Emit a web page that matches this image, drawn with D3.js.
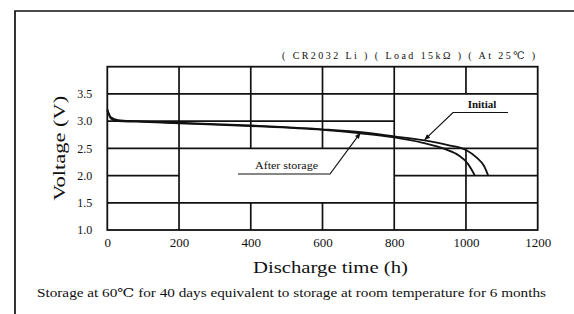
<!DOCTYPE html>
<html>
<head>
<meta charset="utf-8">
<script src="https://cdn.jsdelivr.net/npm/d3@7"></script>
<style>
  body { margin: 0; background: #fff; }
  svg { display: block; }
  text { font-family: "Liberation Serif", "DejaVu Serif", serif; fill: #111; }
</style>
</head>
<body>
<svg id="chart" width="574" height="314"></svg>
<script>
'use strict';

// discharge curves (hours, volts)
var initialCurve = [[0, 3.22], [10, 3.07], [30, 3.02], [80, 3.0], [200, 2.97], [400, 2.92],
    [600, 2.85], [700, 2.8], [800, 2.72], [880, 2.65], [950, 2.56], [1000, 2.47],
    [1030, 2.33], [1050, 2.18], [1062, 2.0]];
var afterStorageCurve = [[0, 3.2], [10, 3.05], [30, 3.0], [80, 2.99], [200, 2.96], [400, 2.91],
    [600, 2.84], [700, 2.78], [800, 2.7], [880, 2.6], [940, 2.49], [980, 2.37],
    [1005, 2.22], [1025, 2.0]];

var xTicks = [0, 200, 400, 600, 800, 1000, 1200];
var yTicks = [1.0, 1.5, 2.0, 2.5, 3.0, 3.5];

// the grid has gaps where the labels sit: [fixed value, from, to]
var hGrid = [[3.5, 0, 1200], [3.0, 0, 800], [2.5, 0, 1200], [2.0, 0, 200], [2.0, 800, 1200], [1.5, 0, 1200]];
var vGrid = [[200, 1, 4], [400, 2.5, 4], [400, 1, 1.5], [600, 2.5, 4], [600, 1, 1.5],
    [800, 1, 4], [1000, 3.5, 4], [1000, 1, 2.5]];

var condText = '( CR2032 Li )    ( Load 15k\u03A9 ) ( At 25\u2103 )';
var noteText = 'Storage at 60\u2103 for 40 days equivalent to storage at room temperature for 6 months';

var svg = d3.select('#chart');

// outer frame (runs off the right and bottom of the picture)
svg.append('path')
    .attr('d', 'M15,320 L15,11 L580,11')
    .attr('fill', 'none')
    .attr('stroke', '#111')
    .attr('stroke-width', 1.7);

var x = d3.scaleLinear().domain([0, 1200]).range([107.3, 537.7]);
var y = d3.scaleLinear().domain([1, 4]).range([230, 66.7]);

var g = svg.append('g');

hGrid.forEach(function(d) {
    g.append('line')
        .attr('x1', x(d[1])).attr('x2', x(d[2]))
        .attr('y1', y(d[0])).attr('y2', y(d[0]))
        .attr('stroke', '#111').attr('stroke-width', 1.7);
});
vGrid.forEach(function(d) {
    g.append('line')
        .attr('x1', x(d[0])).attr('x2', x(d[0]))
        .attr('y1', y(d[1])).attr('y2', y(d[2]))
        .attr('stroke', '#111').attr('stroke-width', 1.7);
});

g.append('rect')
    .attr('x', x(0)).attr('y', y(4))
    .attr('width', x(1200) - x(0)).attr('height', y(1) - y(4))
    .attr('fill', 'none').attr('stroke', '#111').attr('stroke-width', 1.8);

// ticks: no tick marks, only labels
var xAxis = d3.axisBottom(x).tickValues(xTicks).tickSize(0).tickPadding(8)
    .tickFormat(d3.format('d'));
var yAxis = d3.axisLeft(y).tickValues(yTicks).tickSize(0).tickPadding(15)
    .tickFormat(d3.format('.1f'));

var ax = svg.append('g').attr('transform', 'translate(0,' + y(1) + ')').call(xAxis);
var ay = svg.append('g').attr('transform', 'translate(' + x(0) + ',0)').call(yAxis);
ax.selectAll('text').attr('font-size', 13);
ay.selectAll('text').attr('font-size', 12);
[ax, ay].forEach(function(a) {
    a.select('.domain').remove();
    a.selectAll('text').attr('font-family', '"Liberation Serif", serif').attr('fill', '#111');
});

var line = d3.line()
    .x(function(d) { return x(d[0]); })
    .y(function(d) { return y(d[1]); })
    .curve(d3.curveMonotoneX);

[initialCurve, afterStorageCurve].forEach(function(c) {
    svg.append('path')
        .datum(c)
        .attr('d', line)
        .attr('fill', 'none')
        .attr('stroke', '#111')
        .attr('stroke-width', 1.8);
});

// leaders with arrow tips
svg.append('defs').append('marker')
    .attr('id', 'tip')
    .attr('viewBox', '0 0 10 10')
    .attr('refX', 9).attr('refY', 5)
    .attr('markerWidth', 6).attr('markerHeight', 5)
    .attr('orient', 'auto')
  .append('path')
    .attr('d', 'M0,1 L10,5 L0,9 Z')
    .attr('fill', '#111');

var leader = function(pts) {
    svg.append('polyline')
        .attr('points', pts.map(function(p) { return p.join(','); }).join(' '))
        .attr('fill', 'none')
        .attr('stroke', '#111')
        .attr('stroke-width', 1.2)
        .attr('marker-end', 'url(#tip)');
};

leader([[508, 112.5], [453, 112.5], [x(885), y(2.66)]]);
leader([[238, 174], [330, 174], [x(705), y(2.78)]]);

svg.append('text')
    .attr('x', 482).attr('y', 108)
    .attr('text-anchor', 'middle')
    .attr('font-size', 11)
    .attr('font-weight', 'bold')
    .text('Initial');

svg.append('text')
    .attr('x', 255).attr('y', 169)
    .attr('font-size', 11)
    .attr('textLength', 63)
    .attr('lengthAdjust', 'spacingAndGlyphs')
    .text('After storage');

svg.append('text')
    .attr('x', 282).attr('y', 59)
    .attr('font-size', 10)
    .attr('textLength', 253)
    .attr('lengthAdjust', 'spacing')
    .text(condText);

svg.append('text')
    .attr('transform', 'translate(65,' + y(2.5) + ') rotate(-90)')
    .attr('text-anchor', 'middle')
    .attr('font-size', 17)
    .attr('textLength', 105)
    .attr('lengthAdjust', 'spacingAndGlyphs')
    .text('Voltage (V)');

svg.append('text')
    .attr('x', 253).attr('y', 273)
    .attr('font-size', 17)
    .attr('textLength', 155)
    .attr('lengthAdjust', 'spacingAndGlyphs')
    .text('Discharge time (h)');

svg.append('text')
    .attr('x', 37).attr('y', 297)
    .attr('font-size', 12)
    .attr('textLength', 509)
    .attr('lengthAdjust', 'spacingAndGlyphs')
    .text(noteText);
</script>
</body>
</html>
